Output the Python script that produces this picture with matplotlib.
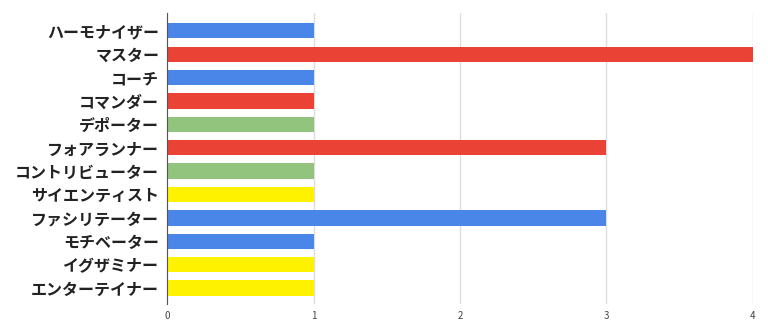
import matplotlib.pyplot as plt

plt.rcParams['font.family'] = ['Noto Sans CJK JP', 'DejaVu Sans']

# --- データ ---
roles = ["ハーモナイザー", "マスター", "コーチ", "コマンダー", "デポーター",
         "フォアランナー", "コントリビューター", "サイエンティスト",
         "ファシリテーター", "モチベーター", "イグザミナー", "エンターテイナー"]
counts = [1, 4, 1, 1, 1, 3, 1, 1, 3, 1, 1, 1]
colors = ["#4a86e8", "#ea4335", "#4a86e8", "#ea4335", "#93c47d", "#ea4335",
          "#93c47d", "#fff200", "#4a86e8", "#4a86e8", "#fff200", "#fff200"]
xticks = [0, 1, 2, 3, 4]

fig = plt.figure(figsize=(7.68, 3.33), dpi=100)
ax = fig.add_axes([0.2180, 0.087, 0.7620, 0.874])

ypos = list(range(len(roles)))
ax.barh(ypos, counts, height=0.655, color=colors, zorder=3)
ax.set_yticks(ypos)
ax.set_yticklabels(roles, fontsize=11.5, fontweight='bold', color='#222222')
ax.set_ylim(len(roles) - 1 + 0.68, -0.76)

ax.set_xlim(0, 4)
ax.set_xticks(xticks)
ax.set_xticklabels([str(t) for t in xticks], fontsize=7, color='#444444')
ax.grid(axis='x', color='#dddddd', linewidth=1, zorder=0)

for s in ['top', 'right', 'bottom']:
    ax.spines[s].set_visible(False)
ax.spines['left'].set_color('#555555')
ax.spines['left'].set_zorder(4)
ax.tick_params(axis='both', length=0, pad=6)
ax.tick_params(axis='x', pad=5)

fig.savefig("out.png", dpi=100)
